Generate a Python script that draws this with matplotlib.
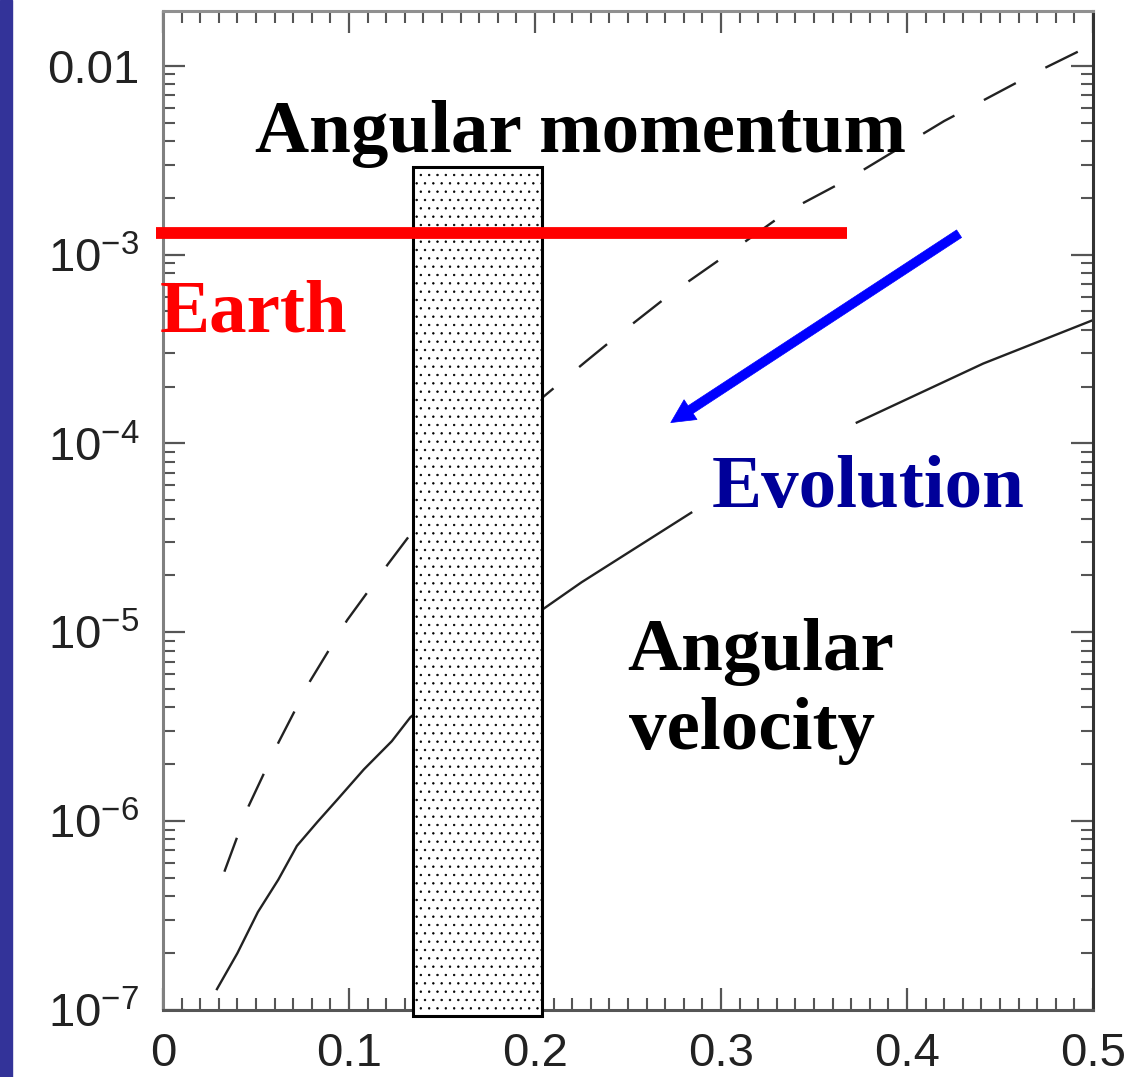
import matplotlib
matplotlib.use('Agg')
import matplotlib.pyplot as plt
from matplotlib.ticker import LogLocator, MultipleLocator, NullFormatter

# angular momentum curve (dashed)
mom_x = [0.033, 0.046, 0.062, 0.079, 0.099, 0.121, 0.133, 0.204, 0.227, 0.244,
         0.273, 0.305, 0.336, 0.368, 0.420, 0.435, 0.470, 0.500]
mom_y = [5.4e-7, 1.2e-6, 2.6e-6, 5.5e-6, 1.16e-5, 2.3e-5, 3.3e-5, 1.75e-4, 2.7e-4, 3.7e-4,
         6.2e-4, 1.03e-3, 1.7e-3, 2.5e-3, 5.1e-3, 6.1e-3, 9.3e-3, 1.3e-2]

# angular velocity curve (solid, two visible pieces)
vel_x_a = [0.029, 0.040, 0.051, 0.062, 0.072, 0.083, 0.094, 0.108, 0.123, 0.133,
           0.204, 0.225, 0.284]
vel_y_a = [1.29e-7, 2.0e-7, 3.3e-7, 4.9e-7, 7.4e-7, 9.9e-7, 1.31e-6, 1.88e-6, 2.65e-6, 3.55e-6,
           1.32e-5, 1.84e-5, 4.3e-5]
vel_x_b = [0.373, 0.441, 0.500]
vel_y_b = [1.29e-4, 2.65e-4, 4.5e-4]

# Earth level and the shaded band
earth_x = [-0.004, 0.368]
earth_y = 1.3e-3
band_x = [0.1345, 0.204]
band_y = [9.3e-8, 2.9e-3]

# evolution arrow (tail, head)
evo_tail = (0.428, 1.29e-3)
evo_head = (0.273, 1.29e-4)

xticks = [0, 0.1, 0.2, 0.3, 0.4, 0.5]
xlabels = ['0', '0.1', '0.2', '0.3', '0.4', '0.5']
yticks = [1e-7, 1e-6, 1e-5, 1e-4, 1e-3, 1e-2]
ylabels = [r'$10^{-7}$', r'$10^{-6}$', r'$10^{-5}$', r'$10^{-4}$', r'$10^{-3}$', '0.01']

plt.rcParams['mathtext.fontset'] = 'custom'
plt.rcParams['mathtext.rm'] = 'Liberation Sans'
plt.rcParams['mathtext.default'] = 'rm'
plt.rcParams['lines.scale_dashes'] = False
plt.rcParams['hatch.linewidth'] = 0.5

fig = plt.figure(figsize=(11.27, 10.77), dpi=100)
fig.patches.append(plt.Rectangle((0, 0), 12 / 1127, 1, transform=fig.transFigure,
                                 color='#333399', zorder=0))
ax = fig.add_axes([163 / 1127, 1 - 1010 / 1077, (1093 - 163) / 1127, (1010 - 11) / 1077])

ax.plot(mom_x, mom_y, color='#222222', lw=1.7, dashes=(26, 24), zorder=2)
ax.plot(vel_x_a, vel_y_a, color='#222222', lw=1.7, zorder=2)
ax.plot(vel_x_b, vel_y_b, color='#222222', lw=1.7, zorder=2)

ax.bar(band_x[0], band_y[1] - band_y[0], width=band_x[1] - band_x[0], bottom=band_y[0],
       align='edge', facecolor='white', edgecolor='black', lw=2.2, hatch='..',
       clip_on=False, zorder=3)

ax.plot(earth_x, [earth_y, earth_y], color='#ff0000', lw=8.5, solid_capstyle='butt',
        clip_on=False, zorder=4)

ax.annotate('', xy=evo_head, xytext=evo_tail,
            arrowprops=dict(width=6.5, headwidth=17, headlength=17, shrink=0,
                            facecolor='#0000ff', edgecolor='#0000ff', lw=0.5),
            zorder=5)

tfont = dict(family='Liberation Serif', weight='bold', fontsize=54)
ax.text(0.0497, 3.5e-3, 'Angular momentum', color='black', ha='left', va='baseline', zorder=6, **tfont)
ax.text(-0.0016, 3.9e-4, 'Earth', color='#ff0000', ha='left', va='baseline', zorder=6, **tfont)
ax.text(0.295, 4.6e-5, 'Evolution', color='#000099', ha='left', va='baseline', zorder=6, **tfont)
ax.text(0.2495, 6.3e-6, 'Angular', color='black', ha='left', va='baseline', zorder=6, **tfont)
ax.text(0.2505, 2.4e-6, 'velocity', color='black', ha='left', va='baseline', zorder=6, **tfont)

ax.set_yscale('log')
ax.set_xlim(0, 0.5)
ax.set_ylim(1e-7, 0.0195)

ax.set_xticks(xticks)
ax.set_xticklabels(xlabels)
ax.set_yticks(yticks)
ax.set_yticklabels(ylabels)
ax.xaxis.set_minor_locator(MultipleLocator(0.01))
ax.yaxis.set_minor_locator(LogLocator(base=10, subs=[2, 3, 4, 5, 6, 7, 8, 9]))
ax.yaxis.set_minor_formatter(NullFormatter())

ax.tick_params(which='both', direction='in', top=True, right=True, color='#555555')
ax.tick_params(which='major', length=16, width=1.6)
ax.tick_params(which='minor', length=8.5, width=1.5)
ax.tick_params(axis='x', which='major', pad=16)
ax.tick_params(axis='y', which='major', pad=17)
for lab in ax.get_xticklabels() + ax.get_yticklabels():
    lab.set_fontfamily('Liberation Sans')
    lab.set_fontsize(34)
    lab.set_color('#222222')

ax.spines['left'].set_color('#808080')
ax.spines['top'].set_color('#909090')
ax.spines['right'].set_color('#333333')
ax.spines['bottom'].set_color('#555555')
for s in ax.spines.values():
    s.set_linewidth(2.2)

fig.savefig('out.png', dpi=100)
